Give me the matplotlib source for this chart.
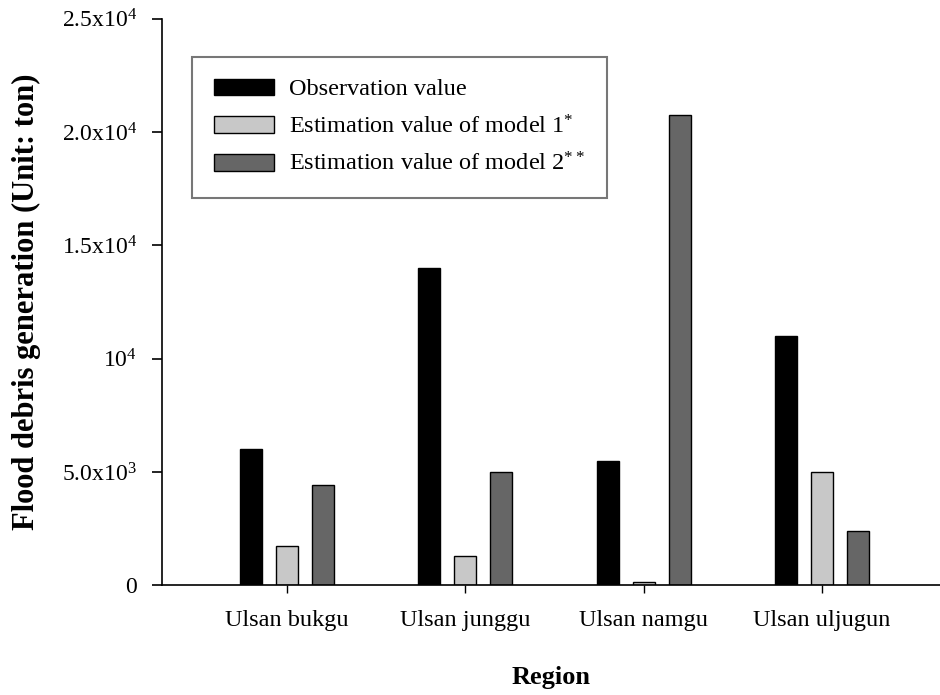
import numpy as np
import matplotlib
matplotlib.use("Agg")
import matplotlib.pyplot as plt

plt.rcParams['font.family'] = ['Liberation Serif', 'DejaVu Serif']
plt.rcParams['mathtext.fontset'] = 'custom'
plt.rcParams['mathtext.rm'] = 'Liberation Serif'
plt.rcParams['mathtext.it'] = 'Liberation Serif'

regions = ["Ulsan bukgu", "Ulsan junggu", "Ulsan namgu", "Ulsan uljugun"]
observation = [6000, 14000, 5500, 11000]
model1 = [1750, 1280, 150, 5000]
model2 = [4400, 5000, 20750, 2400]

series_labels = ["Observation value",
                 r"Estimation value of model 1$\mathregular{^{*}}$",
                 r"Estimation value of model 2$\mathregular{^{**}}$"]
colors = ["#000000", "#c8c8c8", "#666666"]

yticks = [0, 5000, 10000, 15000, 20000, 25000]
ytick_labels = ["0", r"5.0x10$\mathregular{^3}$", r"10$\mathregular{^4}$",
                r"1.5x10$\mathregular{^4}$", r"2.0x10$\mathregular{^4}$",
                r"2.5x10$\mathregular{^4}$"]

fig = plt.figure(figsize=(9.4, 6.95), dpi=100)
ax = fig.add_axes([0.172, 0.158, 0.828, 0.815])

x = np.arange(len(regions))
width = 0.123
offset = 0.202
for i, (vals, lab, col) in enumerate(zip([observation, model1, model2], series_labels, colors)):
    ax.bar(x + (i - 1) * offset, vals, width, color=col, edgecolor="black",
           linewidth=1.0, label=lab)

ax.set_xlim(-0.70, 3.66)
ax.set_ylim(0, 25000)
ax.set_xticks(x)
ax.set_xticklabels(regions, fontsize=17.5)
ax.set_yticks(yticks)
ax.set_yticklabels(ytick_labels, fontsize=17)
ax.tick_params(axis='y', direction='out', length=7, width=1.2, pad=11)
ax.tick_params(axis='x', direction='out', length=6, width=1.0, pad=12)

ax.spines['top'].set_visible(False)
ax.spines['right'].set_visible(False)
ax.spines['left'].set_linewidth(1.2)
ax.spines['bottom'].set_linewidth(1.2)

ax.set_xlabel("Region", fontsize=19, fontweight='bold', labelpad=25)
ax.set_ylabel("Flood debris generation (Unit: ton)", fontsize=22,
              fontweight='bold', labelpad=15)

leg = ax.legend(loc='upper left', bbox_to_anchor=(0.0386, 0.933),
                borderaxespad=0, fontsize=17.5, fancybox=False, frameon=True,
                handlelength=2.5, handleheight=0.66, labelspacing=0.6,
                borderpad=0.9, handletextpad=0.6)
leg.get_frame().set_edgecolor("#555555")
leg.get_frame().set_linewidth(1.5)

fig.savefig("out.png", dpi=100)
